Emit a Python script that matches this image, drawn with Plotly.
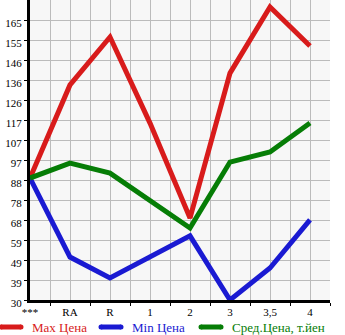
import numpy as np
import plotly.graph_objects as go

categories = ["***", "RA", "R", "1", "2", "3", "3,5", "4"]
max_price = [88.8, 133.7, 156.8, 115.3, 69.5, 139.4, 171.3, 152.5]
min_price = [88.8, 50.7, 40.6, 50.7, 60.9, 30.0, 45.4, 68.6]
avg_price = [88.8, 96.0, 91.2, 78.2, 64.7, 96.5, 101.4, 115.3]
y_tick_labels = ["30", "39", "49", "59", "68", "78", "88", "97", "107", "117",
                 "126", "136", "146", "155", "165"]

series_names = ["Max Цена", "Min Цена", "Сред.Цена, т.йен"]
series_colors = ["#d81b1b", "#1a1ad2", "#067d06"]

W, H = 345, 335
ML, MR, MT, MB = 30, 15, 0, 35
PW, PH = W - ML - MR, H - MT - MB

def px_x(p):
    return (p - ML) / PW

def px_y(p):
    return (MT + PH - p) / PH

xs = list(range(len(categories)))
yvals = list(np.linspace(30, 165, len(y_tick_labels)))
ystep = yvals[1] - yvals[0]

font_family = "Liberation Serif"

fig = go.Figure()
for name, col, vals in zip(series_names, series_colors, [max_price, min_price, avg_price]):
    fig.add_trace(go.Scatter(
        x=xs, y=vals, mode="lines", name=name,
        line=dict(color=col, width=5), showlegend=False,
    ))

# manual legend below the plot
legend_y = 327
for i, (name, col) in enumerate(zip(series_names, series_colors)):
    x0 = i * 100
    fig.add_shape(type="line", xref="paper", yref="paper",
                  x0=px_x(x0 + 1), x1=px_x(x0 + 21), y0=px_y(legend_y), y1=px_y(legend_y),
                  line=dict(color=col, width=5), layer="above")
    fig.add_shape(type="circle", xref="paper", yref="paper",
                  x0=px_x(x0 - 1.5), x1=px_x(x0 + 3.5), y0=px_y(legend_y - 2.5), y1=px_y(legend_y + 2.5),
                  fillcolor=col, line=dict(width=0))
    fig.add_shape(type="circle", xref="paper", yref="paper",
                  x0=px_x(x0 + 18.5), x1=px_x(x0 + 23.5), y0=px_y(legend_y - 2.5), y1=px_y(legend_y + 2.5),
                  fillcolor=col, line=dict(width=0))
    fig.add_annotation(text=name, xref="paper", yref="paper",
                       x=px_x(x0 + 30), y=px_y(legend_y), xanchor="left", yanchor="middle",
                       showarrow=False, font=dict(family=font_family, size=13, color=col))

fig.update_layout(
    width=W, height=H,
    margin=dict(l=ML, r=MR, t=MT, b=MB, pad=0),
    paper_bgcolor="white", plot_bgcolor="#f7f7f7",
    font=dict(family=font_family, size=11, color="black"),
    showlegend=False,
    xaxis=dict(
        range=[0, len(categories) - 0.5], automargin=False,
        tickmode="array", tickvals=xs, ticktext=categories,
        ticks="", showgrid=True, gridcolor="#bbbbbb", gridwidth=1,
        showline=True, linecolor="black", linewidth=3,
        zeroline=False, fixedrange=True,
        tickfont=dict(family=font_family, size=11),
        minor=dict(tick0=0.5, dtick=1, ticks="outside", ticklen=3, tickcolor="black",
                   showgrid=True, gridcolor="#bbbbbb", gridwidth=1),
    ),
    yaxis=dict(
        range=[30, 30 + ystep * PH / 20], automargin=False,
        tickmode="array", tickvals=yvals, ticktext=y_tick_labels,
        ticks="outside", ticklen=3, tickcolor="black",
        showgrid=True, gridcolor="#bbbbbb", gridwidth=1,
        showline=True, linecolor="black", linewidth=3,
        zeroline=False, fixedrange=True,
        tickfont=dict(family=font_family, size=11),
        ticklabelshift=3,
    ),
)

fig.write_html("out.html")
